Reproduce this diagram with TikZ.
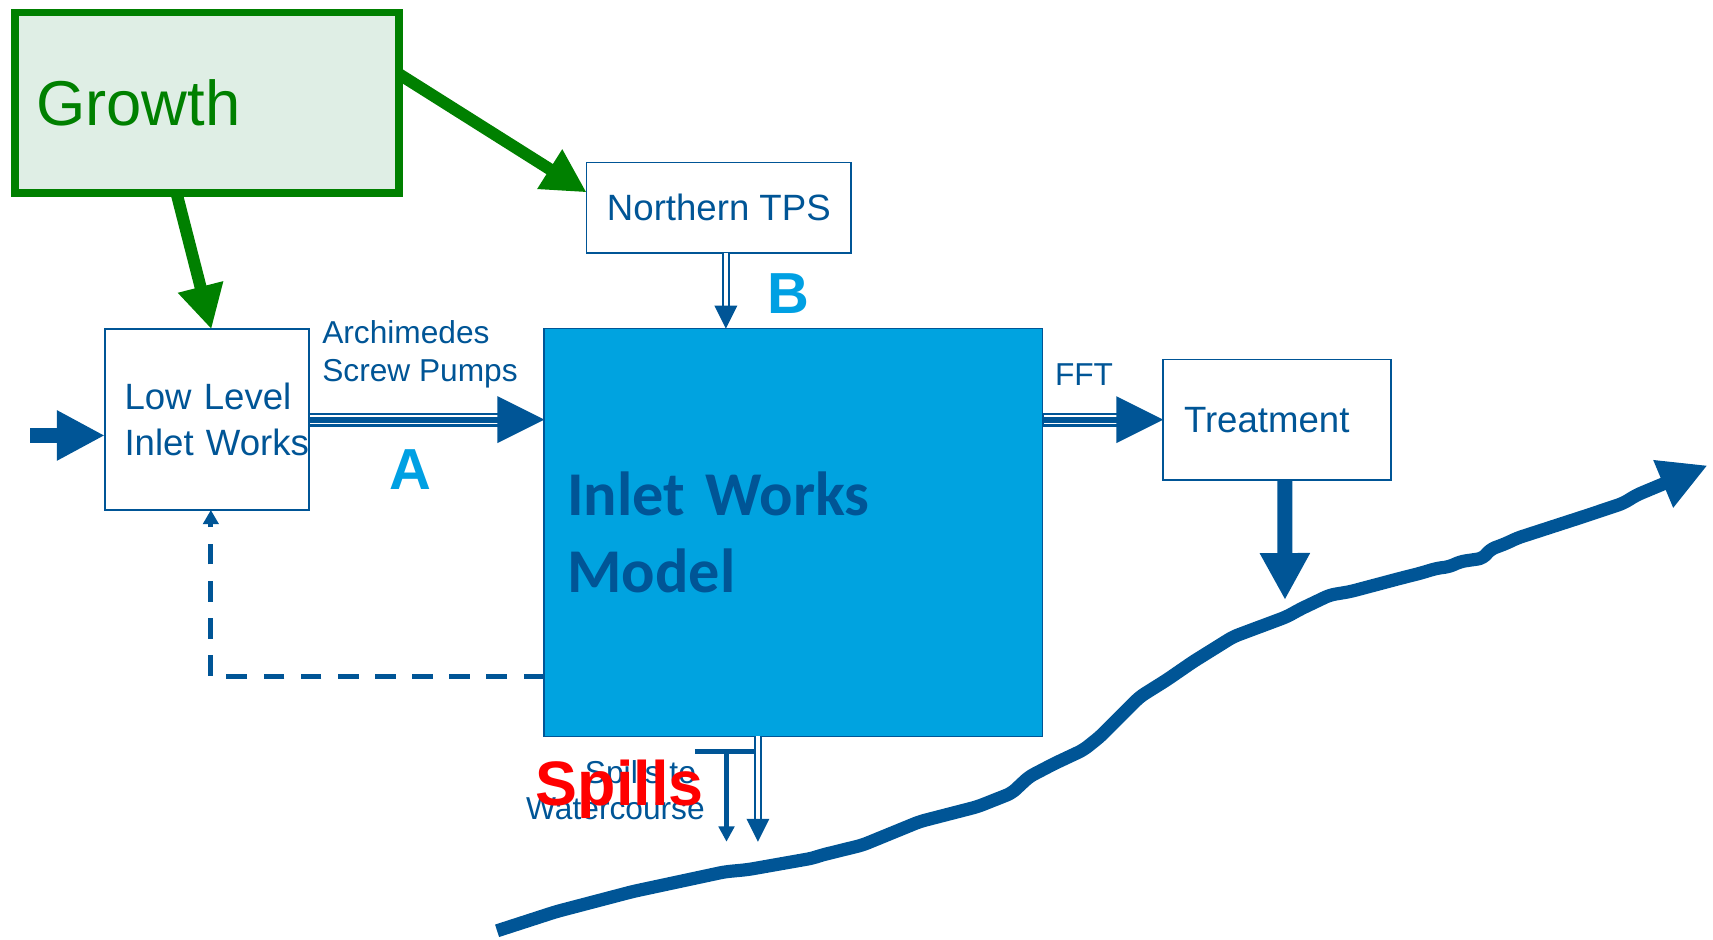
\documentclass[tikz,border=0pt]{standalone}
\usepackage{fontspec}
\setmainfont{Liberation Sans}
\newfontfamily\calibrifont{Carlito}
\usetikzlibrary{calc,arrows.meta}
\definecolor{dkblue}{RGB}{0,85,150}
\definecolor{skyfill}{RGB}{0,163,224}
\definecolor{letterblue}{RGB}{0,160,227}
\definecolor{grn}{RGB}{0,128,0}
\definecolor{grnfill}{RGB}{223,238,229}
\definecolor{spillred}{RGB}{255,0,0}
\begin{document}
\begin{tikzpicture}[x=1pt,y=-1pt,
  box/.style={draw=dkblue, line width=1.5pt, fill=white, inner sep=0pt, outer sep=0pt, text=dkblue, font=\fontsize{33.5}{42}\selectfont},
  lbl/.style={inner sep=0pt, outer sep=0pt, text=dkblue},
  letter/.style={inner sep=0pt, outer sep=0pt, text=letterblue, font=\fontsize{53}{60}\selectfont\bfseries},
  grnarrow/.style={draw=grn, line width=11pt, -{Triangle[length=40pt,width=40pt]}},
]
\useasboundingbox (0,0) rectangle (1568,860);

% ---------- nodes ----------
\node[draw=grn, line width=7pt, fill=grnfill, minimum width=352pt, minimum height=165pt,
      inner sep=0pt, outer sep=0pt, text width=313pt, align=left, text=grn,
      font=\fontsize{58}{64}\selectfont] (growth) at (189.5,94) {Growth};
\node[box, minimum width=242pt, minimum height=82.4pt] (nts) at (658,190.1) {Northern TPS};
\node[box, minimum width=187pt, minimum height=165.4pt, text width=151pt, align=left] (ll) at (189.5,384.1)
      {\mbox{Low Level}\\\mbox{Inlet Works}};
\node[draw=dkblue, line width=1.5pt, fill=skyfill, minimum width=456.2pt, minimum height=373.2pt,
      inner sep=0pt, outer sep=0pt, text width=414pt, align=left, text=dkblue,
      font=\calibrifont\bfseries\fontsize{57}{71}\selectfont] (iwm) at (726.3,487.4) {Inlet Works\\Model};
\node[box, minimum width=208.5pt, minimum height=110.5pt, text width=170.4pt, align=left] (trt) at (1169,384.2) {Treatment};

% ---------- labels ----------
\node[lbl, anchor=north west, align=left, font=\fontsize{29}{34.5}\selectfont] (arch) at (295,293.8) {Archimedes\\Screw Pumps};
\node[lbl, anchor=base west, font=\fontsize{29}{34}\selectfont] (fft) at (965.7,353.3) {FFT};
\node[letter] (A) at (376,429.5) {A};
\node[letter] (B) at (721.6,268.5) {B};
\node[lbl, anchor=east, align=right, font=\fontsize{29}{33}\selectfont] (spilltxt) at (645,723) {Spills to\kern8pt\\Watercourse};
\node[inner sep=0pt, outer sep=0pt, anchor=base west, text=spillred, font=\fontsize{57.5}{62}\selectfont\bfseries] (spills) at (490.5,737.5) {Spills};

% ---------- green arrows ----------
\draw[grnarrow] ($(growth.south)+(-28,0)$) -- ($(ll.north)+(4,0)$);
\draw[grnarrow] ($(growth.east)+(0,-26)$) -- ($(nts.west)+(0,-14)$);

% ---------- inflow ----------
\coordinate (src) at (27.5,398.6);
\draw[dkblue, line width=14pt, -{Triangle[length=44pt,width=43pt]}] (src) -- ($(ll.west)+(0,14.5)$);

% ---------- triple arrow A ----------
\coordinate (aend) at (iwm.west |- ll.east);
\draw[line width=12.8pt, dkblue] (ll.east) -- ($(aend)+(-40,0)$);
\draw[line width=8.6pt, white] ($(ll.east)+(1,0)$) -- ($(aend)+(-40,0)$);
\draw[line width=5.5pt, dkblue] (ll.east) -- ($(aend)+(-40,0)$);
\fill[dkblue] (aend) -- ++(-43,-21.5) -- ++(0,43) -- cycle;

% ---------- triple arrow FFT ----------
\coordinate (fstart) at (iwm.east |- trt.west);
\draw[line width=12.8pt, dkblue] (fstart) -- ($(trt.west)+(-40,0)$);
\draw[line width=8.6pt, white] ($(fstart)+(1,0)$) -- ($(trt.west)+(-40,0)$);
\draw[line width=5.5pt, dkblue] (fstart) -- ($(trt.west)+(-40,0)$);
\fill[dkblue] (trt.west) -- ++(-43,-21.5) -- ++(0,43) -- cycle;

% ---------- double arrow B ----------
\coordinate (bstart) at ($(nts.south)+(6.4,0)$);
\coordinate (bend) at (bstart |- iwm.north);
\draw[dkblue, line width=1.8pt, double=white, double distance=3.8pt] (bstart) -- ($(bend)+(0,-18)$);
\fill[dkblue] (bend) -- ++(-10.5,-21) -- ++(21,0) -- cycle;

% ---------- treatment outfall ----------
\coordinate (outfall) at (1176.2,549.2);
\draw[dkblue, line width=13.7pt, -{Triangle[length=43pt,width=43pt]}] ($(trt.south)+(7,0)$) -- (outfall);

% ---------- dashed feedback ----------
\draw[dkblue, line width=4.5pt, dash pattern=on 19pt off 15pt, -{Triangle[length=13pt,width=14pt]}]
  ($(iwm.west)+(0,132)$) -| ($(ll.south)+(3.5,0)$);

% ---------- spills ----------
\coordinate (sp2) at ($(iwm.south)+(-32.5,96.5)$);
\draw[dkblue, line width=1.8pt, double=white, double distance=3.8pt] ($(iwm.south)+(-32.5,0)$) -- ($(sp2)+(0,-18)$);
\fill[dkblue] (sp2) -- ++(-10.5,-21) -- ++(21,0) -- cycle;
\coordinate (tl) at ($(iwm.south)+(-90.3,14)$);
\coordinate (tr) at ($(iwm.south)+(-34,14)$);
\coordinate (sp1top) at ($(iwm.south)+(-61.3,14)$);
\coordinate (sp1) at ($(iwm.south)+(-61.3,96.5)$);
\draw[dkblue, line width=4.5pt] (tl) -- (tr);
\draw[dkblue, line width=4.5pt, -{Triangle[length=14pt,width=14pt]}] (sp1top) -- (sp1);

% ---------- river ----------
\draw[dkblue, line width=12pt, line join=round, rounded corners=5pt, -{Triangle[length=44pt,width=44pt]}]
  (455,852) -- (509,834.5) -- (579.5,816) -- (663.5,798) -- (684.5,796) -- (744,785.5) -- (751,783)
  -- (789.5,773.5) -- (842,752) -- (894.7,738.4) -- (926,726) -- (942,711) -- (965,699) -- (991.6,686.5)
  -- (1006.9,674.3) -- (1043.5,637.7) -- (1067.9,622.4) -- (1092.3,605.6) -- (1128.9,582.8)
  -- (1177.8,564.5) -- (1190,557.7) -- (1217.4,544.6) -- (1235.7,541.6) -- (1281.5,529.4)
  -- (1299.8,524.8) -- (1315,520.2) -- (1327,518.7) -- (1336.4,514.1) -- (1357.7,511) -- (1363.8,503)
  -- (1379,497.3) -- (1388.3,492.7) -- (1449.3,472.9) -- (1485.8,460.7) -- (1498.1,453.1) -- (1563,426);
\end{tikzpicture}
\end{document}
